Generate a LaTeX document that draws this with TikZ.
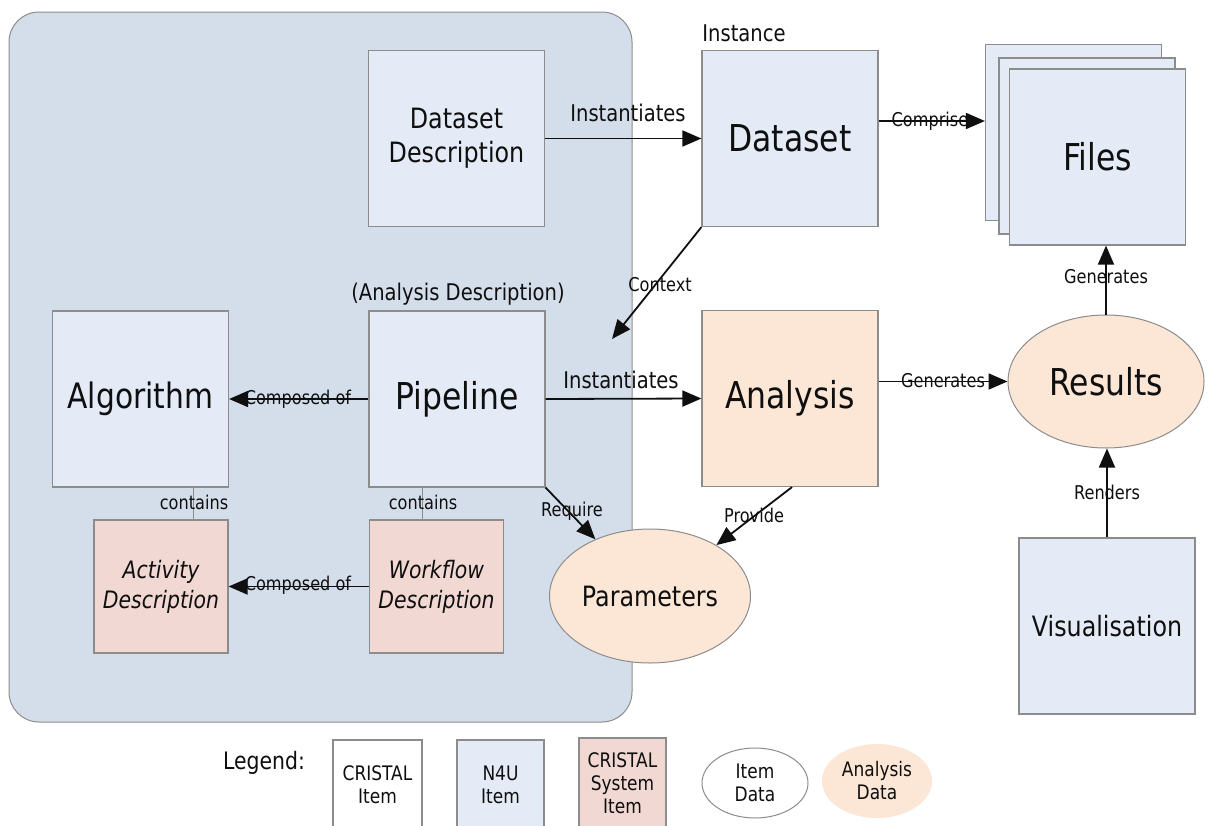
\documentclass[tikz,border=0pt]{standalone}
\usepackage{fontspec}
\setmainfont{DejaVu Sans}[FakeStretch=0.85]
\usetikzlibrary{arrows.meta,shapes.geometric}
\definecolor{panelc}{RGB}{212,222,235}
\definecolor{n4uc}{RGB}{228,235,246}
\definecolor{sysc}{RGB}{241,216,210}
\definecolor{peachc}{RGB}{252,230,214}
\definecolor{bordc}{RGB}{140,140,140}
\definecolor{inkc}{RGB}{15,15,15}
\tikzset{
 itembox/.style={draw=bordc, line width=1.2pt, fill=n4uc, minimum width=176pt, minimum height=176pt, inner sep=0pt, align=center, text=inkc},
 sysbox/.style={itembox, fill=sysc, minimum width=134pt, minimum height=133pt},
 anabox/.style={itembox, fill=peachc},
 dataell/.style={ellipse, draw=bordc, line width=1pt, fill=peachc, inner sep=0pt, align=center, text=inkc},
 fbig/.style={font=\fontsize{37}{44}\selectfont},
 fmed/.style={font=\fontsize{28}{34}\selectfont},
 fital/.style={font=\fontsize{24}{30}\selectfont\itshape},
 fsmall/.style={font=\fontsize{23}{28}\selectfont, text=inkc, inner sep=1pt},
 ftiny/.style={font=\fontsize{19}{23}\selectfont, text=inkc, inner sep=1pt},
 flegend/.style={font=\fontsize{20}{23}\selectfont, align=center, text=inkc},
 arr/.style={line width=1.8pt, draw=inkc, -{Triangle[length=19pt,width=16pt]}},
 link/.style={line width=1pt, draw=bordc},
}
\begin{document}
\begin{tikzpicture}[x=1pt,y=-1pt]
\useasboundingbox[fill=white] (0,0) rectangle (1208,825);
% background panel
\node[draw=bordc, line width=1pt, fill=panelc, rounded corners=30pt, minimum width=623pt, minimum height=710pt, inner sep=0pt] (panel) at (320.5,367) {};

% boxes
\node[itembox, fmed] (dd) at (456.5,138.5) {Dataset\\Description};
\node[itembox, fbig] (ds) at (790,138.5) {Dataset};
\node[fsmall] (inst) at (744,33) {Instance};

\node[itembox] (fb) at (1073.5,132.5) {};
\node[itembox] (fm) at (1087,146) {};
\node[itembox, fbig] (ff) at (1097.5,157) {Files};

\node[fsmall] (adesc) at (458,294) {(Analysis Description)};
\node[itembox, font=\fontsize{35}{42}\selectfont] (alg) at (140.5,399) {Algorithm};
\node[itembox, fbig] (pip) at (457,399) {Pipeline};
\node[anabox, fbig] (ana) at (790,398.5) {Analysis};

\node[sysbox, fital] (act) at (161,586.5) {Activity\\Description};
\node[sysbox, fital] (wf) at (436.5,586.5) {Workflow\\Description};

\node[dataell, fmed, minimum width=201pt, minimum height=134pt] (par) at (650,596) {Parameters};
\node[dataell, fbig, minimum width=196pt, minimum height=133pt] (res) at (1106,381.5) {Results};
\node[itembox, fmed] (vis) at (1107,626) {Visualisation};

% connectors
\draw[arr] (dd.east) -- (ds.west);
\node[fsmall] (l1) at (628,113) {Instantiates};

\draw[arr] ([yshift=17.5pt]ds.east) -- ([yshift=17.5pt]ds.east -| fb.west);
\node[ftiny] (l2) at (930,121) {Comprise};

\coordinate (ctxend) at (612,339);
\draw[arr] (ds.south west) -- (ctxend);
\node[ftiny] (l3) at (660,285) {Context};

\draw[arr] (pip.west) -- (alg.east);
\node[ftiny] (l4) at (298,399) {Composed of};
\draw[arr] (wf.west) -- (act.east);
\node[ftiny] (l5) at (298,585) {Composed of};

\draw[link] ([xshift=52.5pt]alg.south) -- ([xshift=32pt]act.north);
\node[ftiny] (l6) at (194,502) {contains};
\draw[link] ([xshift=-35pt]pip.south) -- ([xshift=-14.5pt]wf.north);
\node[ftiny] (l7) at (423,502) {contains};

\draw[arr] (pip.east) -- (ana.west);
\node[fsmall] (l8) at (621,380) {Instantiates};

\draw[arr] (pip.south east) -- (par);
\node[ftiny] (l9) at (572,511) {Require};
\draw[arr] ([xshift=2pt]ana.south) -- (par);
\node[ftiny] (l10) at (754,515) {Provide};

\draw[arr] (ana.east |- res.west) -- (res.west);
\node[ftiny] (l11) at (943,381) {Generates};
\draw[arr] (res.north) -- (res.north |- ff.south);
\node[ftiny] (l12) at (1106,277) {Generates};
\draw[arr] (vis.north) -- (vis.north |- res.south);
\node[ftiny] (l13) at (1107,492) {Renders};

% legend
\node[font=\fontsize{24}{28}\selectfont, text=inkc] (leg) at (264,763) {Legend:};
\node[itembox, fill=white, flegend, minimum width=89pt, minimum height=90pt] (lg1) at (377.5,785) {CRISTAL\\Item};
\node[itembox, flegend, minimum width=87pt, minimum height=90pt] (lg2) at (500.5,785) {N4U\\Item};
\node[itembox, fill=sysc, flegend, minimum width=87pt, minimum height=90pt] (lg3) at (622.5,783) {CRISTAL\\System\\Item};
\node[dataell, fill=white, flegend, minimum width=106pt, minimum height=70pt] (lg4) at (755,783) {Item\\Data};
\node[dataell, draw=none, flegend, minimum width=110pt, minimum height=74pt] (lg5) at (877,781) {Analysis\\Data};
\end{tikzpicture}
\end{document}
